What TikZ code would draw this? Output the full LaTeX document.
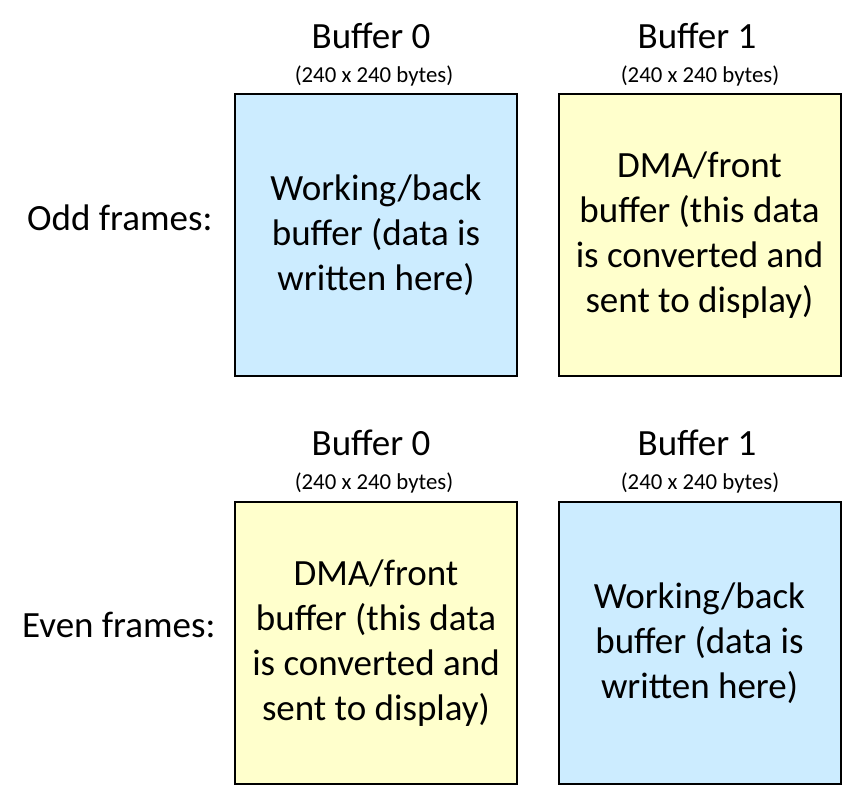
\documentclass[tikz,border=0pt]{standalone}
\usepackage{fontspec}
\setmainfont{Carlito}
\usepackage{tikz}
\definecolor{workblue}{RGB}{204,236,255}
\definecolor{dmayellow}{RGB}{255,255,204}

\begin{document}
\begin{tikzpicture}[x=1pt,y=-1pt,
   buf/.style={draw,line width=2pt,minimum width=282pt,minimum height=282pt,inner sep=0pt,align=center,font=\fontsize{37}{45}\selectfont},
   head/.style={anchor=base,font=\fontsize{37}{45}\selectfont},
   size/.style={anchor=base,font=\fontsize{22.8}{27}\selectfont},
   frames/.style={anchor=base east,font=\fontsize{37}{45}\selectfont}]
   \useasboundingbox (0,0) rectangle (858,785);

   % odd frames
   \draw (216,230) node[frames] (odd) {Odd frames:};
   \draw (371,48) node[head] (oddt0) {Buffer 0};
   \draw (374,82) node[size] (odds0) {(240 x 240 bytes)};
   \draw (697,48) node[head] (oddt1) {Buffer 1};
   \draw (700,82) node[size] (odds1) {(240 x 240 bytes)};
   \draw (376,235) node[buf,fill=workblue] (odd0) {Working/back\\buffer (data is\\written here)};
   \draw (699.5,235) node[buf,fill=dmayellow] (odd1) {DMA/front\\buffer (this data\\is converted and\\sent to display)};

   % even frames
   \draw (219,637) node[frames] (even) {Even frames:};
   \draw (371,455) node[head] (event0) {Buffer 0};
   \draw (374,489) node[size] (evens0) {(240 x 240 bytes)};
   \draw (697,455) node[head] (event1) {Buffer 1};
   \draw (700,489) node[size] (evens1) {(240 x 240 bytes)};
   \draw (376,643) node[buf,fill=dmayellow] (even0) {DMA/front\\buffer (this data\\is converted and\\sent to display)};
   \draw (699.5,643) node[buf,fill=workblue] (even1) {Working/back\\buffer (data is\\written here)};
\end{tikzpicture}
\end{document}
